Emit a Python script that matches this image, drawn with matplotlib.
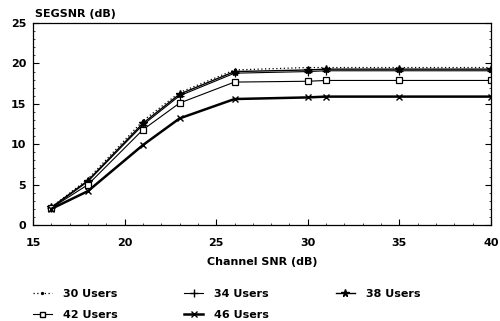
import numpy as np
import matplotlib
matplotlib.use('Agg')
import matplotlib.pyplot as plt
from matplotlib.lines import Line2D

plt.rcParams['font.family'] = ['DejaVu Sans']
plt.rcParams['font.weight'] = 'bold'

# Data
snr = [16, 18, 21, 23, 26, 30, 31, 35, 40]
users_30 = [2.2, 5.7, 12.9, 16.4, 19.2, 19.5, 19.5, 19.5, 19.5]
users_34 = [2.1, 5.4, 12.4, 16.0, 18.8, 19.0, 19.1, 19.1, 19.1]
users_38 = [2.2, 5.5, 12.6, 16.2, 19.0, 19.2, 19.3, 19.3, 19.3]
users_42 = [2.1, 5.0, 11.8, 15.1, 17.7, 17.8, 17.9, 17.9, 17.9]
users_46 = [2.0, 4.2, 9.9, 13.2, 15.6, 15.8, 15.9, 15.9, 15.9]
labels = ['30 Users', '34 Users', '38 Users', '42 Users', '46 Users']

fig = plt.figure(figsize=(5.0, 3.21), dpi=100)
ax = fig.add_axes([0.066, 0.299, 0.916, 0.629])

ax.plot(snr, users_30, color='black', lw=0.9, ls=(0, (1, 2)), marker='.', ms=3)
ax.plot(snr, users_34, color='black', lw=0.8, marker='+', ms=6, mew=0.9)
ax.plot(snr, users_38, color='black', lw=1.0, marker='*', ms=6)
ax.plot(snr, users_42, color='black', lw=0.8, marker='s', ms=4, mfc='white', mew=0.9)
ax.plot(snr, users_46, color='black', lw=1.8, marker='x', ms=5, mew=1.0)

ax.set_xlim(15, 40)
ax.set_ylim(0, 25)
ax.set_xticks([15, 20, 25, 30, 35, 40])
ax.set_yticks([0, 5, 10, 15, 20, 25])
ax.set_xticks(np.arange(15, 41, 1), minor=True)
ax.set_yticks(np.arange(0, 26, 1), minor=True)
ax.tick_params(which='both', direction='in', top=False, right=True, labelsize=8)
ax.tick_params(which='major', length=4, width=0.8)
ax.tick_params(which='minor', length=1.5, width=0.5)
ax.tick_params(axis='x', pad=9)
ax.tick_params(axis='y', pad=5)
for s in ax.spines.values():
    s.set_linewidth(0.9)

ax.set_xlabel('Channel SNR (dB)', fontsize=8, fontweight='bold', labelpad=7)
fig.text(0.07, 0.94, 'SEGSNR (dB)', fontsize=8, fontweight='bold', ha='left', va='bottom')

handles = [
    Line2D([], [], color='black', lw=0.9, ls=(0, (1, 2)), marker='.', ms=3),
    Line2D([], [], color='black', lw=0.8, marker='+', ms=6),
    Line2D([], [], color='black', lw=1.0, marker='*', ms=6),
    Line2D([], [], color='black', lw=0.8, marker='s', ms=4, mfc='white'),
    Line2D([], [], color='black', lw=1.8, marker='x', ms=5),
]
order = [0, 3, 1, 4, 2]
fig.legend([handles[i] for i in order], [labels[i] for i in order],
           loc='upper left', bbox_to_anchor=(0.066, 0.10), ncol=3, frameon=False,
           borderpad=0, borderaxespad=0,
           fontsize=8, handlelength=1.7, columnspacing=6.0, labelspacing=1.0,
           handletextpad=1.0, markerscale=0.9)

fig.savefig('out.png', dpi=100)
